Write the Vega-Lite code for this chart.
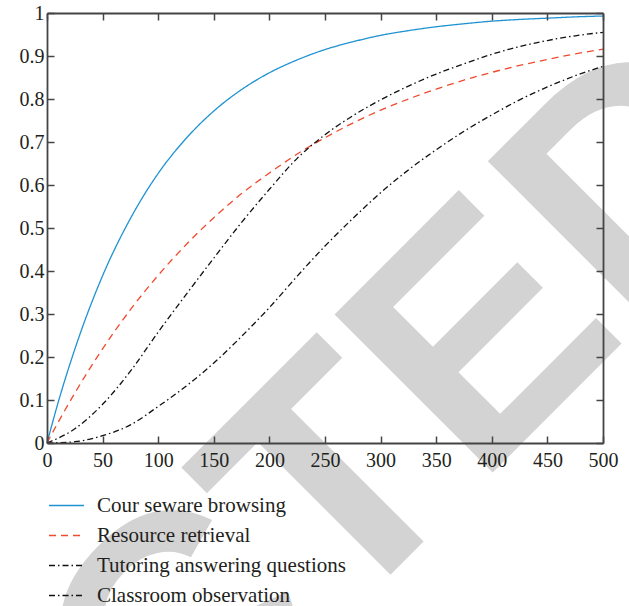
{
  "$schema": "https://vega.github.io/schema/vega-lite/v6.json",
  "width": 556,
  "height": 430,
  "autosize": {"type": "none"},
  "padding": {"left": 47, "top": 13, "right": 26, "bottom": 163},
  "background": "white",
  "config": {
    "view": {"stroke": null},
    "font": "Liberation Serif",
    "axis": {
      "domainColor": "#444444",
      "domainWidth": 1.8,
      "tickColor": "#444444",
      "tickWidth": 1.5,
      "tickSize": -7,
      "labelFont": "Liberation Serif",
      "labelFontSize": 20,
      "labelColor": "#231f20",
      "grid": false,
      "title": null,
      "zindex": 1,
      "labelOverlap": false,
      "labelFlush": false
    },
    "legend": {
      "symbolType": "stroke",
      "symbolSize": 1225,
      "symbolStrokeWidth": 1.3,
      "labelFont": "Liberation Serif",
      "labelFontSize": 21,
      "labelColor": "#231f20",
      "labelOffset": 12,
      "padding": 0,
      "labelLimit": 400,
      "zindex": 1
    }
  },
  "datasets": {
    "stamp": [{"x": 674, "y": 0.638, "label": "RETRACTED"}],
    "curves": [
      {"x": 0, "value": 0, "series": "Cour seware browsing"},
      {"x": 10, "value": 0.094, "series": "Cour seware browsing"},
      {"x": 25, "value": 0.218, "series": "Cour seware browsing"},
      {"x": 50, "value": 0.389, "series": "Cour seware browsing"},
      {"x": 75, "value": 0.522, "series": "Cour seware browsing"},
      {"x": 100, "value": 0.627, "series": "Cour seware browsing"},
      {"x": 125, "value": 0.708, "series": "Cour seware browsing"},
      {"x": 150, "value": 0.772, "series": "Cour seware browsing"},
      {"x": 175, "value": 0.822, "series": "Cour seware browsing"},
      {"x": 200, "value": 0.861, "series": "Cour seware browsing"},
      {"x": 225, "value": 0.891, "series": "Cour seware browsing"},
      {"x": 250, "value": 0.915, "series": "Cour seware browsing"},
      {"x": 275, "value": 0.933, "series": "Cour seware browsing"},
      {"x": 300, "value": 0.948, "series": "Cour seware browsing"},
      {"x": 325, "value": 0.959, "series": "Cour seware browsing"},
      {"x": 350, "value": 0.968, "series": "Cour seware browsing"},
      {"x": 375, "value": 0.975, "series": "Cour seware browsing"},
      {"x": 400, "value": 0.981, "series": "Cour seware browsing"},
      {"x": 425, "value": 0.985, "series": "Cour seware browsing"},
      {"x": 450, "value": 0.988, "series": "Cour seware browsing"},
      {"x": 475, "value": 0.991, "series": "Cour seware browsing"},
      {"x": 500, "value": 0.993, "series": "Cour seware browsing"},
      {"x": 0, "value": 0, "series": "Resource retrieval"},
      {"x": 10, "value": 0.048, "series": "Resource retrieval"},
      {"x": 25, "value": 0.116, "series": "Resource retrieval"},
      {"x": 50, "value": 0.219, "series": "Resource retrieval"},
      {"x": 75, "value": 0.31, "series": "Resource retrieval"},
      {"x": 100, "value": 0.39, "series": "Resource retrieval"},
      {"x": 125, "value": 0.461, "series": "Resource retrieval"},
      {"x": 150, "value": 0.524, "series": "Resource retrieval"},
      {"x": 175, "value": 0.58, "series": "Resource retrieval"},
      {"x": 200, "value": 0.628, "series": "Resource retrieval"},
      {"x": 225, "value": 0.672, "series": "Resource retrieval"},
      {"x": 250, "value": 0.71, "series": "Resource retrieval"},
      {"x": 275, "value": 0.744, "series": "Resource retrieval"},
      {"x": 300, "value": 0.774, "series": "Resource retrieval"},
      {"x": 325, "value": 0.8, "series": "Resource retrieval"},
      {"x": 350, "value": 0.823, "series": "Resource retrieval"},
      {"x": 375, "value": 0.844, "series": "Resource retrieval"},
      {"x": 400, "value": 0.862, "series": "Resource retrieval"},
      {"x": 425, "value": 0.878, "series": "Resource retrieval"},
      {"x": 450, "value": 0.892, "series": "Resource retrieval"},
      {"x": 475, "value": 0.905, "series": "Resource retrieval"},
      {"x": 500, "value": 0.916, "series": "Resource retrieval"},
      {"x": 0, "value": 0, "series": "Tutoring answering questions"},
      {"x": 25, "value": 0.033, "series": "Tutoring answering questions"},
      {"x": 50, "value": 0.09, "series": "Tutoring answering questions"},
      {"x": 75, "value": 0.167, "series": "Tutoring answering questions"},
      {"x": 100, "value": 0.258, "series": "Tutoring answering questions"},
      {"x": 125, "value": 0.345, "series": "Tutoring answering questions"},
      {"x": 150, "value": 0.43, "series": "Tutoring answering questions"},
      {"x": 175, "value": 0.513, "series": "Tutoring answering questions"},
      {"x": 200, "value": 0.59, "series": "Tutoring answering questions"},
      {"x": 225, "value": 0.662, "series": "Tutoring answering questions"},
      {"x": 250, "value": 0.717, "series": "Tutoring answering questions"},
      {"x": 275, "value": 0.761, "series": "Tutoring answering questions"},
      {"x": 300, "value": 0.798, "series": "Tutoring answering questions"},
      {"x": 325, "value": 0.83, "series": "Tutoring answering questions"},
      {"x": 350, "value": 0.858, "series": "Tutoring answering questions"},
      {"x": 375, "value": 0.882, "series": "Tutoring answering questions"},
      {"x": 400, "value": 0.904, "series": "Tutoring answering questions"},
      {"x": 425, "value": 0.922, "series": "Tutoring answering questions"},
      {"x": 450, "value": 0.936, "series": "Tutoring answering questions"},
      {"x": 475, "value": 0.947, "series": "Tutoring answering questions"},
      {"x": 500, "value": 0.955, "series": "Tutoring answering questions"},
      {"x": 0, "value": 0, "series": "Classroom observation"},
      {"x": 25, "value": 0.003, "series": "Classroom observation"},
      {"x": 50, "value": 0.017, "series": "Classroom observation"},
      {"x": 75, "value": 0.042, "series": "Classroom observation"},
      {"x": 100, "value": 0.085, "series": "Classroom observation"},
      {"x": 125, "value": 0.132, "series": "Classroom observation"},
      {"x": 150, "value": 0.186, "series": "Classroom observation"},
      {"x": 175, "value": 0.248, "series": "Classroom observation"},
      {"x": 200, "value": 0.315, "series": "Classroom observation"},
      {"x": 225, "value": 0.388, "series": "Classroom observation"},
      {"x": 250, "value": 0.458, "series": "Classroom observation"},
      {"x": 275, "value": 0.522, "series": "Classroom observation"},
      {"x": 300, "value": 0.582, "series": "Classroom observation"},
      {"x": 325, "value": 0.635, "series": "Classroom observation"},
      {"x": 350, "value": 0.682, "series": "Classroom observation"},
      {"x": 375, "value": 0.725, "series": "Classroom observation"},
      {"x": 400, "value": 0.763, "series": "Classroom observation"},
      {"x": 425, "value": 0.798, "series": "Classroom observation"},
      {"x": 450, "value": 0.828, "series": "Classroom observation"},
      {"x": 475, "value": 0.854, "series": "Classroom observation"},
      {"x": 500, "value": 0.876, "series": "Classroom observation"}
    ]
  },
  "layer": [
    {
      "data": {"name": "stamp"},
      "mark": {
        "type": "text",
        "font": "Liberation Sans",
        "fontWeight": "bold",
        "fontSize": 325,
        "angle": 315,
        "align": "right",
        "baseline": "alphabetic",
        "color": "#d3d3d3",
        "clip": false
      },
      "encoding": {
        "x": {
          "field": "x",
          "type": "quantitative",
          "scale": {"domain": [0, 500]},
          "axis": {"orient": "top", "labels": false, "zindex": 1, "values": [0, 50, 100, 150, 200, 250, 300, 350, 400, 450, 500]}
        },
        "y": {
          "field": "y",
          "type": "quantitative",
          "scale": {"domain": [0, 1]},
          "axis": {"orient": "right", "labels": false, "zindex": 1, "values": [0, 0.1, 0.2, 0.3, 0.4, 0.5, 0.6, 0.7, 0.8, 0.9, 1]}
        },
        "text": {"field": "label"}
      }
    },
    {
      "data": {"name": "curves"},
      "mark": {"type": "line", "strokeWidth": 1.3, "interpolate": "monotone"},
      "encoding": {
        "x": {
          "field": "x",
          "type": "quantitative",
          "scale": {"domain": [0, 500]},
          "axis": {"orient": "bottom", "labelPadding": 14, "zindex": 1, "values": [0, 50, 100, 150, 200, 250, 300, 350, 400, 450, 500]}
        },
        "y": {
          "field": "value",
          "type": "quantitative",
          "scale": {"domain": [0, 1]},
          "axis": {"orient": "left", "labelPadding": 10, "zindex": 1, "format": ".1~f", "values": [0, 0.1, 0.2, 0.3, 0.4, 0.5, 0.6, 0.7, 0.8, 0.9, 1]}
        },
        "color": {
          "field": "series",
          "type": "nominal",
          "scale": {
            "domain": ["Cour seware browsing", "Resource retrieval", "Tutoring answering questions", "Classroom observation"],
            "range": ["#1f93d2", "#f04a2e", "#111111", "#111111"]
          },
          "legend": {"title": null, "orient": "none", "legendX": 1, "legendY": 474, "rowPadding": 1, "zindex": 1}
        },
        "strokeDash": {
          "field": "series",
          "type": "nominal",
          "scale": {
            "domain": ["Cour seware browsing", "Resource retrieval", "Tutoring answering questions", "Classroom observation"],
            "range": [[1, 0], [7, 5], [6, 3, 1.5, 3], [6, 3, 1.5, 3]]
          },
          "legend": {"title": null, "orient": "none", "legendX": 1, "legendY": 474, "rowPadding": 1, "zindex": 1}
        }
      }
    }
  ],
  "resolve": {"axis": {"x": "independent", "y": "independent"}}
}
